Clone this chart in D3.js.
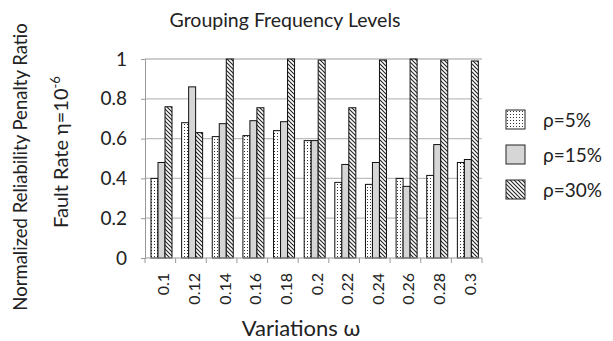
<!DOCTYPE html>
<html>
<head>
<meta charset="utf-8">
<script src="https://cdn.jsdelivr.net/npm/d3@7"></script>
<style>
  body { margin: 0; background: #fff; }
  text { font-family: Lato, "Open Sans", sans-serif; fill: #222; }
</style>
</head>
<body>
<div id="chart"></div>
<script>
// data
var categories = ["0.1","0.12","0.14","0.16","0.18","0.2","0.22","0.24","0.26","0.28","0.3"];
var seriesNames = ["ρ=5%","ρ=15%","ρ=30%"];
var rho5  = [0.40, 0.68, 0.61, 0.615, 0.64, 0.59, 0.38, 0.37, 0.40, 0.415, 0.48];
var rho15 = [0.48, 0.86, 0.675, 0.69, 0.685, 0.59, 0.47, 0.48, 0.36, 0.57, 0.495];
var rho30 = [0.76, 0.63, 1.0, 0.755, 1.0, 0.995, 0.755, 0.995, 1.0, 0.995, 0.99];
var yTicks = [0, 0.2, 0.4, 0.6, 0.8, 1];

var W = 613, H = 341;
var plotL = 145, plotR = 482, plotT = 59, plotB = 258;

var svg = d3.select("#chart").append("svg").attr("width", W).attr("height", H);

// patterns
var defs = svg.append("defs");
var dots = defs.append("pattern").attr("id","dots").attr("patternUnits","userSpaceOnUse")
  .attr("width",3).attr("height",3);
dots.append("rect").attr("width",3).attr("height",3).attr("fill","#fff");
dots.append("rect").attr("x",1).attr("y",1).attr("width",1).attr("height",1).attr("fill","#333");

var hatch = defs.append("pattern").attr("id","hatch").attr("patternUnits","userSpaceOnUse")
  .attr("width",4).attr("height",4);
hatch.append("rect").attr("width",4).attr("height",4).attr("fill","#fff");
hatch.append("path").attr("d","M-1,-1 L5,5 M-1,3 L1,5 M3,-1 L5,1")
  .attr("stroke","#222").attr("stroke-width",1.1);

var fills = ["url(#dots)", "#d6d6d6", "url(#hatch)"];

// scales
var x = d3.scaleBand().domain(categories).range([plotL, plotR]);
var xs = d3.scaleBand().domain(d3.range(3)).range([6, 27]);
var y = d3.scaleLinear().domain([0,1]).range([plotB, plotT]);

// grid
svg.append("g").selectAll("line").data(yTicks.slice(1)).enter().append("line")
  .attr("x1", plotL).attr("x2", plotR)
  .attr("y1", d => y(d)).attr("y2", d => y(d))
  .attr("stroke","#bdbdbd").attr("stroke-width",1.3);

// bars
var series = [rho5, rho15, rho30];
series.forEach(function(vals, si){
  svg.append("g").selectAll("rect").data(vals).enter().append("rect")
    .attr("x", (d,i) => x(categories[i]) + xs(si))
    .attr("width", xs.bandwidth())
    .attr("y", d => y(d))
    .attr("height", d => y(0) - y(d))
    .attr("fill", fills[si])
    .attr("stroke","#111").attr("stroke-width",1);
});

// y axis
var yaxis = d3.axisLeft(y).tickValues(yTicks).tickFormat(d3.format("")).tickSize(4).tickPadding(14);
var gy = svg.append("g").attr("transform","translate("+plotL+",0)").call(yaxis);
gy.select(".domain").attr("stroke","#999");
gy.selectAll(".tick line").attr("stroke","#999");
gy.selectAll("text").style("font-size","19px").attr("fill","#222");

// x axis
var gx = svg.append("g").attr("transform","translate(0,"+plotB+")");
gx.append("line").attr("x1",plotL).attr("x2",plotR).attr("stroke","#999");
gx.selectAll("line.tk").data(d3.range(categories.length+1)).enter().append("line")
  .attr("class","tk")
  .attr("x1", i => plotL + i*x.step()).attr("x2", i => plotL + i*x.step())
  .attr("y1",0).attr("y2",5).attr("stroke","#999");
gx.selectAll("text").data(categories).enter().append("text")
  .attr("transform", d => "translate(" + (x(d) + x.bandwidth()/2 + 9) + ",15) rotate(-90)")
  .attr("text-anchor","end")
  .style("font-size","16px")
  .text(d => d);

// titles
svg.append("text").attr("x",285).attr("y",27).attr("text-anchor","middle")
  .style("font-size","19.5px").text("Grouping Frequency Levels");
svg.append("text").attr("x",301).attr("y",336).attr("text-anchor","middle")
  .style("font-size","22px").text("Variations ω");
svg.append("text").attr("transform","translate(27,167) rotate(-90)").attr("text-anchor","middle")
  .style("font-size","18.5px").text("Normalized Reliability Penalty Ratio");
var ft = svg.append("text").attr("transform","translate(68,152) rotate(-90)").attr("text-anchor","middle")
  .style("font-size","20px");
ft.append("tspan").text("Fault Rate η=10");
ft.append("tspan").attr("dy",-8).style("font-size","13px").text("-6");

// legend
var lg = svg.append("g").selectAll("g").data(seriesNames).enter().append("g")
  .attr("transform", (d,i) => "translate(506," + (110 + i*35) + ")");
lg.append("rect").attr("width",19).attr("height",19)
  .attr("fill", (d,i) => fills[i]).attr("stroke","#222").attr("stroke-width",1);
lg.append("text").attr("x",37).attr("y",17).style("font-size","19px").text(d => d);
</script>
</body>
</html>
